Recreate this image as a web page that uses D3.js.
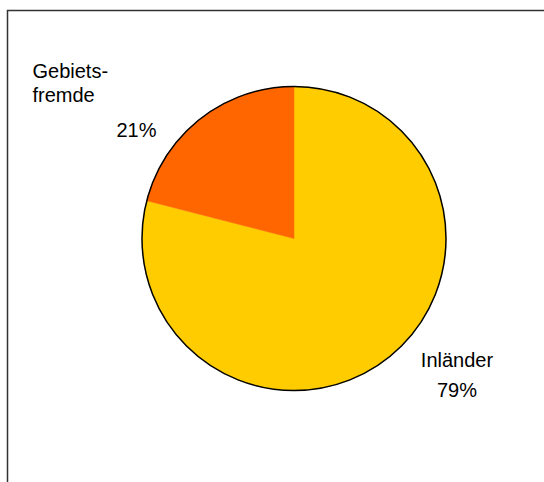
<!DOCTYPE html>
<html>
<head>
<meta charset="utf-8">
<script src="https://cdn.jsdelivr.net/npm/d3@7"></script>
<style>
  html, body { margin: 0; padding: 0; background: #ffffff; }
  svg { display: block; }
  text { font-family: Arial, "Liberation Sans", Helvetica, sans-serif; fill: #000; }
</style>
</head>
<body>
<svg id="chart" width="544" height="482"></svg>
<script>
// Share of overnight guests by origin
const categories = ["Inländer", "Gebietsfremde"];
const values = [79, 21];
const valueLabels = ["79%", "21%"];
const colors = ["#FFCC00", "#FF6600"];

const svg = d3.select("#chart");
const W = 544, H = 482;

// chart frame (continues past the right and bottom edges)
svg.append("rect")
  .attr("x", 7.5).attr("y", 10.5)
  .attr("width", 600).attr("height", 600)
  .attr("fill", "#fff")
  .attr("stroke", "#333")
  .attr("stroke-width", 1.5);

const cx = 294, cy = 238.5, radius = 152;

const data = categories.map((c, i) => ({ name: c, value: values[i], label: valueLabels[i], color: colors[i] }));

const pie = d3.pie().sort(null).value(d => d.value);
const arc = d3.arc().innerRadius(0).outerRadius(radius);

const g = svg.append("g").attr("transform", `translate(${cx},${cy})`);

g.selectAll("path.slice")
  .data(pie(data))
  .join("path")
  .attr("class", "slice")
  .attr("d", arc)
  .attr("fill", d => d.data.color)
  .attr("stroke", d => d.data.color)
  .attr("stroke-width", 0.5);

// outline around the whole pie
g.append("circle")
  .attr("r", radius)
  .attr("fill", "none")
  .attr("stroke", "#000")
  .attr("stroke-width", 1.5);

// labels
const fs = 20;
// Inländer: centered two-line label below right
const lblIn = svg.append("text").attr("font-size", fs).attr("text-anchor", "middle");
lblIn.append("tspan").attr("x", 457).attr("y", 366.5).text(data[0].name);
lblIn.append("tspan").attr("x", 457).attr("y", 396.5).text(data[0].label);

// Gebietsfremde: hyphenated name at top left, percentage below
const lblGf = svg.append("text").attr("font-size", fs);
lblGf.append("tspan").attr("x", 32.5).attr("y", 78).text("Gebiets-");
lblGf.append("tspan").attr("x", 32.5).attr("y", 102).text("fremde");
svg.append("text").attr("font-size", fs).attr("x", 116.5).attr("y", 136.5).text(data[1].label);
</script>
</body>
</html>
